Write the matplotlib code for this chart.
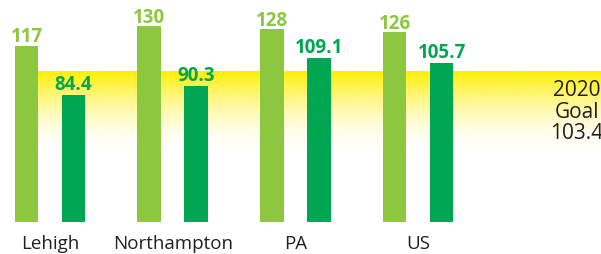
import numpy as np
import matplotlib.pyplot as plt
from matplotlib.colors import to_rgb

# data
categories = ['Lehigh', 'Northampton', 'PA', 'US']
series_a = [117, 130, 128, 126]        # light green bars
series_b = [84.4, 90.3, 109.1, 105.7]  # dark green bars
goal_label = '2020\nGoal\n103.4'
band_top = 100      # where the yellow goal band starts
band_bottom = 45    # where it has faded to white

light = '#8DC63F'
dark = '#00A651'
yellow = '#FFEF00'
text_gray = '#231F20'

plt.rcParams['font.family'] = ['Open Sans', 'DejaVu Sans']

fig = plt.figure(figsize=(6.01, 2.55), dpi=100)
ax = fig.add_axes([0, 32.3 / 255, 1, 222.7 / 255])

x = np.arange(len(categories))
off = 0.1915
width = 0.192
xmin, xmax = -50 / 122.7, (601 - 50) / 122.7

# yellow goal band fading downward
t = np.linspace(0, 1, 256)[:, None]
grad = np.zeros((256, 2, 4))
grad[..., :3] = to_rgb(yellow)
grad[..., 3] = (1 - t) ** 1.8
ax.imshow(grad, extent=[x[0] - off, xmax, band_bottom, band_top],
          aspect='auto', origin='upper', zorder=0, interpolation='bilinear')

ax.bar(x - off, series_a, width, color=light, zorder=2)
ax.bar(x + off, series_b, width, color=dark, zorder=2)

for xi, v in zip(x, series_a):
    ax.annotate(f'{v:g}', (xi - off, v), xytext=(0, 3.4), textcoords='offset points',
                ha='center', va='baseline', fontsize=13.5, fontweight='bold', color=light)
for xi, v in zip(x, series_b):
    ax.annotate(f'{v:g}', (xi + off, v), xytext=(0, 4.3), textcoords='offset points',
                ha='center', va='baseline', fontsize=13.5, fontweight='bold', color=dark)

for xi, c in zip(x, categories):
    ax.annotate(c, (xi, 0), xycoords=('data', 'axes fraction'), xytext=(0, -19),
                textcoords='offset points', ha='center', va='baseline',
                fontsize=13.5, color=text_gray)

ax.text((577 - 50) / 122.7, (222.7 - 112) / 1.502, goal_label, ha='center', va='center',
        fontsize=15, color=text_gray, linespacing=1.05, zorder=3)

ax.set_xlim(xmin, xmax)
ax.set_ylim(0, 222.7 / 1.502)
ax.axis('off')

fig.savefig('out.png', dpi=100)
